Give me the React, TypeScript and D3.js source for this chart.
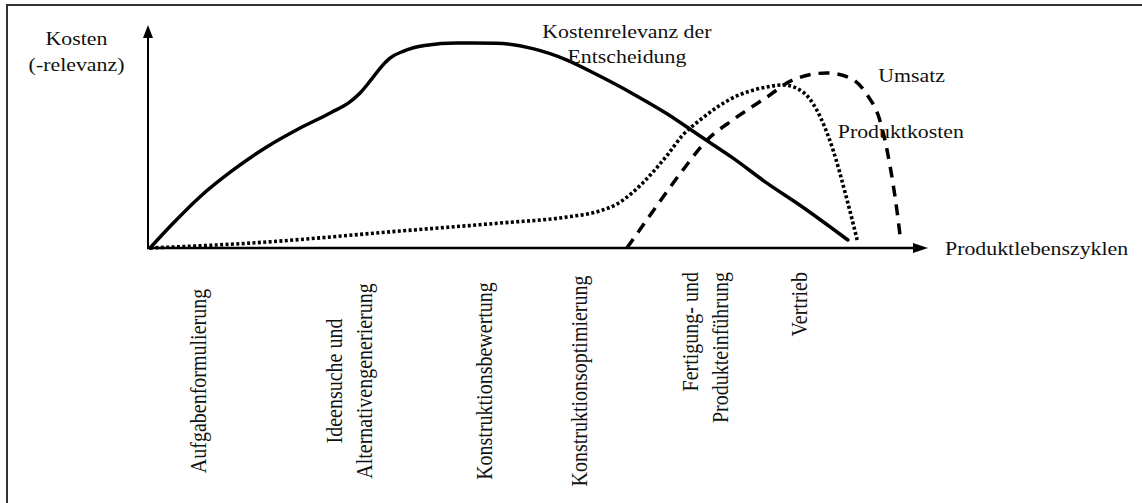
import React, { useEffect, useRef } from "react";
import * as d3 from "d3";

type Pt = { t: number; v: number };

// lifecycle position t (0..100) and relative level v (0..100)
const KOSTENRELEVANZ: Pt[] = [
  { t: 0, v: 0 }, { t: 3.0, v: 11.2 }, { t: 6.4, v: 22.9 }, { t: 10.7, v: 35.0 },
  { t: 15.0, v: 45.3 }, { t: 19.3, v: 53.8 }, { t: 23.3, v: 60.8 }, { t: 25.7, v: 65.5 },
  { t: 27.0, v: 69.5 }, { t: 28.3, v: 74.9 }, { t: 29.6, v: 80.7 }, { t: 30.8, v: 85.0 },
  { t: 32.6, v: 88.3 }, { t: 35.3, v: 90.8 }, { t: 39.5, v: 91.9 }, { t: 44.5, v: 91.8 },
  { t: 49.2, v: 89.4 }, { t: 53.6, v: 84.3 }, { t: 57.8, v: 77.1 }, { t: 62.1, v: 69.1 },
  { t: 66.5, v: 60.1 }, { t: 70.7, v: 50.2 }, { t: 74.9, v: 40.4 }, { t: 79.3, v: 29.1 },
  { t: 83.5, v: 19.3 }, { t: 89.7, v: 3.6 },
];

const PRODUKTKOSTEN: Pt[] = [
  { t: 0, v: 0 }, { t: 12.9, v: 2.2 }, { t: 32.1, v: 7.6 }, { t: 45.0, v: 11.2 },
  { t: 53.6, v: 13.9 }, { t: 57.8, v: 16.6 }, { t: 60.0, v: 19.7 }, { t: 62.1, v: 25.1 },
  { t: 64.3, v: 32.7 }, { t: 66.5, v: 41.7 }, { t: 68.5, v: 50.7 }, { t: 70.7, v: 57.4 },
  { t: 74.9, v: 67.3 }, { t: 79.3, v: 72.2 }, { t: 81.4, v: 73.1 }, { t: 83.9, v: 70.0 },
  { t: 85.7, v: 61.9 }, { t: 87.8, v: 43.9 }, { t: 89.6, v: 21.5 }, { t: 90.9, v: 3.6 },
];

const UMSATZ: Pt[] = [
  { t: 61.3, v: 0 }, { t: 64.3, v: 14.8 }, { t: 68.5, v: 35.0 }, { t: 71.6, v: 48.4 },
  { t: 74.9, v: 57.4 }, { t: 79.3, v: 67.7 }, { t: 82.6, v: 75.3 }, { t: 87.0, v: 78.5 },
  { t: 90.0, v: 76.2 }, { t: 92.2, v: 68.6 }, { t: 93.8, v: 57.4 }, { t: 95.1, v: 37.2 },
  { t: 96.0, v: 17.0 }, { t: 96.4, v: 5.8 },
];

const PHASES = [
  ["Aufgabenformulierung"],
  ["Ideensuche und", "Alternativengenerierung"],
  ["Konstruktionsbewertung"],
  ["Konstruktionsoptimierung"],
  ["Fertigung- und", "Produkteinführung"],
  ["Vertrieb"],
];
const PHASE_AT = [6.3, 25.7, 43.1, 55.3, 71.5, 83.5];

const Y_TITLE = ["Kosten", "(-relevanz)"];
const X_TITLE = "Produktlebenszyklen";
const RELEVANZ_LABEL = ["Kostenrelevanz der", "Entscheidung"];
const UMSATZ_LABEL = "Umsatz";
const KOSTEN_LABEL = "Produktkosten";

const W = 1142;
const H = 503;
const SX = 1.15; // the scan is stretched sideways

function renderChart(svgEl: SVGSVGElement) {
  const svg = d3.select(svgEl);
  svg.selectAll("*").remove();
  svg.attr("width", W).attr("height", H);

  svg.append("rect").attr("width", W).attr("height", H).attr("fill", "#fff");

  // frame of the scan
  svg.append("path")
    .attr("d", `M7,${H} L7,5 L${W},5`)
    .attr("fill", "none").attr("stroke", "#333").attr("stroke-width", 2);

  const x = d3.scaleLinear().domain([0, 100]).range([150, 928]);
  const y = d3.scaleLinear().domain([0, 100]).range([248, 25]);

  // Axes with arrowheads
  svg.append("line")
    .attr("x1", x(0) - 2).attr("x2", x(0) - 2)
    .attr("y1", y(0) + 1).attr("y2", y(100) + 10)
    .attr("stroke", "#000").attr("stroke-width", 2);
  svg.append("path")
    .attr("d", `M${x(0) - 2},${y(100)} L${x(0) - 7},${y(100) + 13} L${x(0) + 3},${y(100) + 13} Z`)
    .attr("fill", "#000");

  svg.append("line")
    .attr("x1", x(0) - 3).attr("x2", x(100) - 12)
    .attr("y1", y(0)).attr("y2", y(0))
    .attr("stroke", "#000").attr("stroke-width", 2.5);
  svg.append("path")
    .attr("d", `M${x(100)},${y(0)} L${x(100) - 15},${y(0) - 5} L${x(100) - 15},${y(0) + 5} Z`)
    .attr("fill", "#000");

  // Curves
  const line = d3.line<Pt>()
    .x(d => x(d.t))
    .y(d => y(d.v))
    .curve(d3.curveMonotoneX);

  svg.append("path").datum(PRODUKTKOSTEN)
    .attr("d", line).attr("fill", "none")
    .attr("stroke", "#000").attr("stroke-width", 3.6)
    .attr("stroke-dasharray", "3 2.4");

  svg.append("path").datum(UMSATZ)
    .attr("d", line).attr("fill", "none")
    .attr("stroke", "#000").attr("stroke-width", 3.5)
    .attr("stroke-dasharray", "11 8");

  svg.append("path").datum(KOSTENRELEVANZ)
    .attr("d", line).attr("fill", "none")
    .attr("stroke", "#000").attr("stroke-width", 3.5)
    .attr("stroke-linecap", "round");

  // Horizontal texts
  const hText = (tx: number, ty: number, s: string, anchor: string) =>
    svg.append("text")
      .attr("transform", `translate(${tx},${ty}) scale(${SX},1)`)
      .attr("text-anchor", anchor)
      .attr("font-size", 19).attr("fill", "#111")
      .text(s);

  Y_TITLE.forEach((s, i) => hText(76.5, 45 + i * 26, s, "middle"));
  RELEVANZ_LABEL.forEach((s, i) => hText(x(61.3), 38 + i * 25, s, "middle"));
  hText(x(93.6), 82, UMSATZ_LABEL, "start");
  hText(x(88.4), 138, KOSTEN_LABEL, "start");
  hText(x(100) + 17, y(0) + 7, X_TITLE, "start");

  // Phase labels, rotated
  PHASES.forEach((lines, i) => {
    const cx = x(PHASE_AT[i]);
    // the early phases sit centred in the band, the late ones hang from the top
    const centred = i < 4;
    lines.forEach((s, j) => {
      const bx = cx + 7 + (j - (lines.length - 1) / 2) * 30;
      const by = centred ? 381 : 272;
      svg.append("text")
        .attr("transform", `translate(${bx},${by}) scale(${SX},1) rotate(-90)`)
        .attr("text-anchor", centred ? "middle" : "end")
        .attr("font-size", 20).attr("fill", "#111")
        .text(s);
    });
  });
}

export default function App() {
  const svgRef = useRef<SVGSVGElement>(null);

  useEffect(() => {
    if (svgRef.current) renderChart(svgRef.current);
  }, []);

  return (
    <div style={{ position: "absolute", left: 0, top: 0 }}>
      <svg
        ref={svgRef}
        style={{ display: "block", fontFamily: '"Liberation Serif", "Times New Roman", serif' }}
      />
    </div>
  );
}
